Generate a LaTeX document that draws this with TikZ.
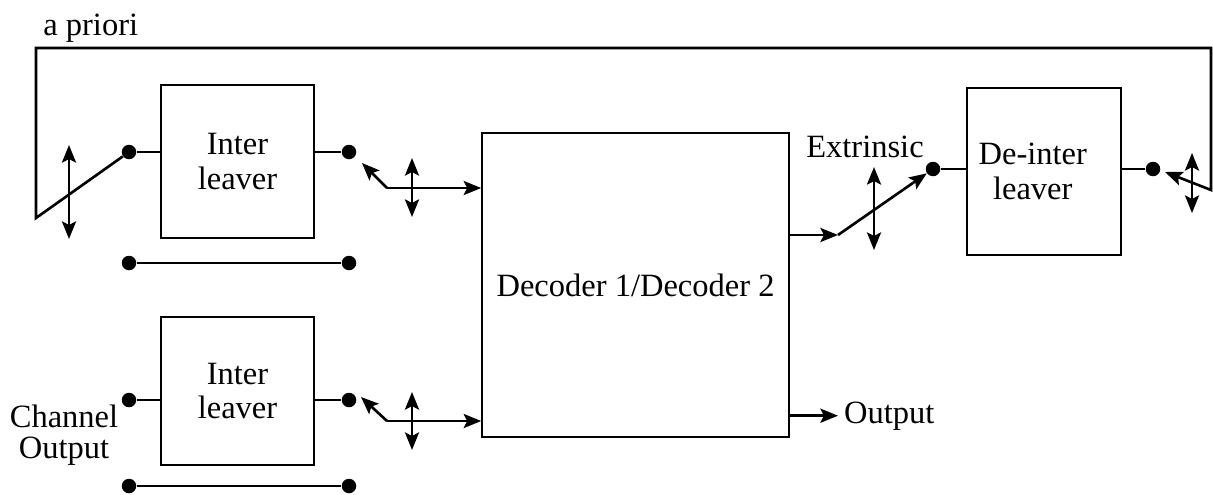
\documentclass[tikz,border=0pt]{standalone}
\usepackage{fontspec}
\setmainfont{Liberation Serif}
\usetikzlibrary{arrows.meta}

\begin{document}
\begin{tikzpicture}[x=0.02cm, y=-0.02cm,
  font=\fontsize{18.5}{19.5}\selectfont,
  blocco/.style={draw, line width=0.9pt, align=center, inner sep=0pt},
  filo/.style={line width=0.9pt},
  freccia/.style={line width=1.5pt, -{Stealth[length=10pt,width=8pt,inset=2pt]}},
  doppia/.style={line width=1.5pt, {Stealth[length=10pt,width=8pt,inset=2pt]}-{Stealth[length=10pt,width=8pt,inset=2pt]}},
  punto/.style={circle, fill, inner sep=0pt, minimum size=0.29cm}]

\useasboundingbox (0,0) rectangle (1213,494);

% Blocchi
\node[blocco, minimum width=3.06cm, minimum height=3.06cm] (inter1) at (237.5,161.5) {Inter\\leaver};
\node[blocco, minimum width=3.06cm, minimum height=2.96cm] (inter2) at (237.5,391) {Inter\\leaver};
\node[blocco, minimum width=6.14cm, minimum height=6.08cm] (dec) at (635.5,285) {Decoder 1/Decoder 2};
\node[blocco, minimum width=3.08cm, minimum height=3.34cm] (deint) at (1044,171.5) {De-inter\hspace*{0.45cm}\\leaver\hspace*{0.45cm}};

% Contatti
\node[punto] (pA) at (129,152) {};
\node[punto] (pB) at (349,152) {};
\node[punto] (pC) at (129,263) {};
\node[punto] (pD) at (349,263) {};
\node[punto] (pE) at (129,400) {};
\node[punto] (pF) at (349,400) {};
\node[punto] (pG) at (129,486) {};
\node[punto] (pH) at (349,486) {};
\node[punto] (pX) at (933,169) {};
\node[punto] (pY) at (1153,169) {};

% Testi
\node[anchor=base west, inner sep=0pt] (apriori) at (43,35) {a priori};
\node[anchor=base, inner sep=0pt] (estr) at (865,157) {Extrinsic};
\node[anchor=base west] (uscita) at (838,423) {Output};
\node[align=center, font=\fontsize{18.5}{17.5}\selectfont] (canale) at (64,435) {Channel\\Output};

% Collegamenti sottili
\draw[filo] (pA) -- (pA -| inter1.west);
\draw[filo] (inter1.east |- pB) -- (pB);
\draw[filo] (pC) -- (pD);
\draw[filo] (pE) -- (pE -| inter2.west);
\draw[filo] (inter2.east |- pF) -- (pF);
\draw[filo] (pG) -- (pH);
\draw[filo] (pX) -- (pX -| deint.west);
\draw[filo] (deint.east |- pY) -- (pY);

% Anello a priori
\coordinate (baseS) at (36,218);
\coordinate (angoloS) at (36,48);
\coordinate (angoloD) at (1211,48);
\coordinate (baseD) at (1211,190);
\coordinate (leva4) at (1165,172);
\draw[freccia] (pA) -- (baseS) -- (angoloS) -- (angoloD) -- (baseD) -- (leva4);
\draw[doppia] (69,145) -- (69,239);
\draw[doppia] (1192,153) -- (1192,213);

% Commutatori ingresso decoder
\coordinate (perno1) at (387,188);
\coordinate (leva1) at (362,163);
\draw[freccia] (perno1) -- (leva1);
\draw[freccia] (perno1) -- (perno1 -| dec.west);
\draw[doppia] (412,158) -- (412,217);

\coordinate (perno2) at (387,421);
\coordinate (leva2) at (361,397);
\draw[freccia] (perno2) -- (leva2);
\draw[freccia] (perno2) -- (perno2 -| dec.west);
\draw[doppia] (412,392) -- (412,450);

% Uscita estrinseca
\coordinate (gomito) at (838,235);
\draw[freccia] (dec.east |- gomito) -- (gomito);
\draw[freccia] (gomito) -- (pX);
\draw[doppia] (874,167) -- (874,250);

% Uscita
\draw[freccia] (dec.east |- uscita.west) -- (uscita.west);

\end{tikzpicture}
\end{document}
